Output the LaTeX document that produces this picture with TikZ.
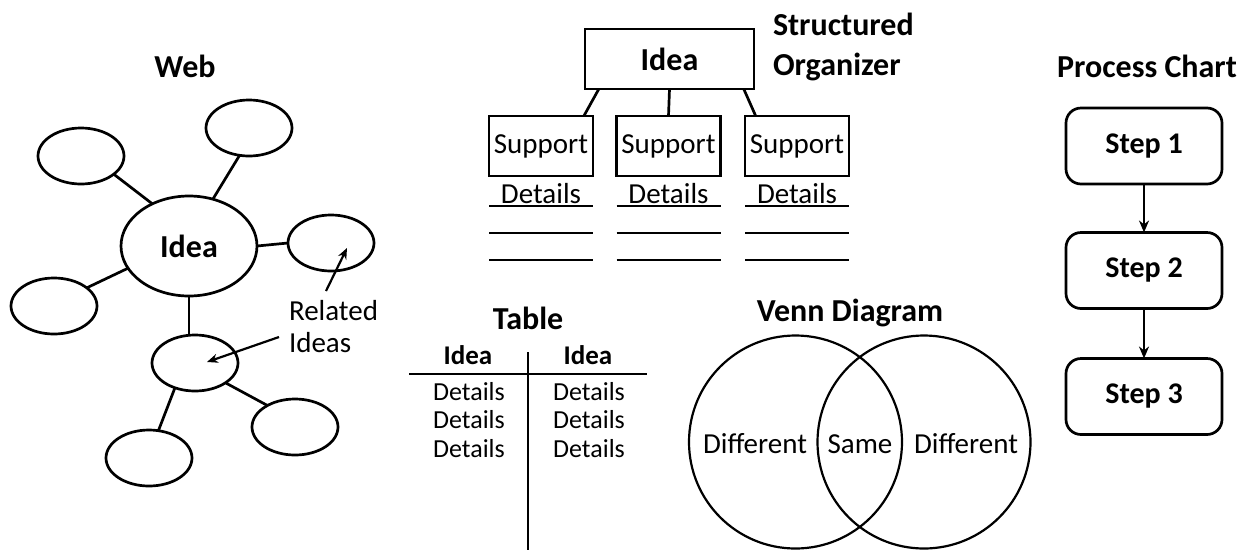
\documentclass[tikz,border=0pt]{standalone}
\usepackage{fontspec}
\setmainfont{Carlito}
\usetikzlibrary{arrows.meta,shapes.geometric}
\newcommand\myN{\fontsize{29}{35}\selectfont}
\newcommand\myB{\fontsize{32}{38}\selectfont\bfseries}
\newcommand\myS{\fontsize{30}{36}\selectfont\bfseries}
\newcommand\myT{\fontsize{26}{31}\selectfont}
\newcommand\myH{\fontsize{27}{32}\selectfont\bfseries}
\begin{document}
\begin{tikzpicture}[x=1pt,y=-1pt, line width=2.7pt,
  every node/.style={inner sep=0pt, outer sep=0pt},
  bub/.style={ellipse, draw, minimum width=86pt, minimum height=56pt},
  sbox/.style={rectangle, draw, minimum width=104pt, minimum height=60pt, font=\myN},
  stepbox/.style={rectangle, draw, rounded corners=15pt, minimum width=156pt, minimum height=76pt, font=\myS},
  arr/.style={-{Stealth[length=12pt,width=10pt]}},
  sarr/.style={line width=2.2pt,-{Stealth[length=11pt,width=9pt]}},
  title/.style={anchor=base, font=\myB},
  venn/.style={circle, draw, line width=2.2pt, minimum size=213pt}]
\useasboundingbox (0,0) rectangle (1250,550);

% ---------- Web ----------
\node[title] (webt) at (185,77) {Web};
\node[bub, minimum width=136pt, minimum height=100pt, font=\myB] (idea) at (189,246) {Idea};
\node[bub] (tl) at (81,156) {};
\node[bub] (tr) at (249,128) {};
\node[bub] (r) at (331,243) {};
\node[bub] (l) at (54,306) {};
\node[bub] (m) at (195,363) {};
\node[bub] (bl) at (149,458) {};
\node[bub] (br) at (295,427) {};
\draw (tl.-29) -- (idea.131);
\draw (tr.-109) -- (idea.63);
\draw (idea.east) -- (r.west);
\draw (idea.-160) -- (l.29);
\draw (idea.south) -- (idea.south |- m.north);
\draw (m.-129) -- (bl.71);
\draw (m.-33) -- (br.142);
\node[anchor=base west, font=\myN] (rel1) at (289,320) {Related};
\node[anchor=base west, font=\myN] (rel2) at (289,352) {Ideas};
\coordinate (a1s) at (326,291);
\coordinate (a1e) at (347,248);
\coordinate (a2s) at (279,337);
\coordinate (a2e) at (207,362);
\draw[sarr] (a1s) -- (a1e);
\draw[sarr] (a2s) -- (a2e);

% ---------- Structured Organizer ----------
\node[anchor=base west, font=\myB] (so1) at (773,35) {Structured};
\node[anchor=base west, font=\myB] (so2) at (773,75) {Organizer};
\node[rectangle, draw, minimum width=169pt, minimum height=60pt, font=\myB] (sidea) at (669.5,59) {Idea};
\node[sbox] (s1) at (541,146) {Support};
\node[sbox] (s2) at (668.5,146) {Support};
\node[sbox] (s3) at (797,146) {Support};
\draw (sidea.-157.5) -- (s1.35.5);
\draw (sidea.south) -- (s2.north);
\draw (sidea.-22.8) -- (s3.144.5);
\foreach \n in {s1,s2,s3}{
  \node[anchor=base, font=\myN] at (\n.south |- 0,203) {Details};
  \foreach \yy in {206,233,260}{
    \draw (\n.south west |- 0,\yy) -- (\n.south east |- 0,\yy);
  }
}

% ---------- Table ----------
\node[title] (tabt) at (528,329) {Table};
\node[anchor=base, font=\myH] (th1) at (468,364) {Idea};
\node[anchor=base, font=\myH] (th2) at (588,364) {Idea};
\draw (409,374) -- (647,374);
\draw (528,352) -- (528,550);
\foreach \yy in {400,428.5,457}{
  \node[anchor=base, font=\myT] at (469,\yy) {Details};
  \node[anchor=base, font=\myT] at (589,\yy) {Details};
}

% ---------- Venn ----------
\node[title] (vt) at (850,321) {Venn Diagram};
\node[venn] (vl) at (795.5,442) {};
\node[venn] (vr) at (924,442) {};
\node[anchor=base, font=\myN] (d1) at (755,453) {Different};
\node[anchor=base, font=\myN] (same) at (860,453) {Same};
\node[anchor=base, font=\myN] (d2) at (966,453) {Different};

% ---------- Process Chart ----------
\node[title] (pt) at (1147,77) {Process Chart};
\node[stepbox] (st1) at (1144,146) {Step 1};
\node[stepbox] (st2) at (1144,270.5) {Step 2};
\node[stepbox] (st3) at (1144,396.5) {Step 3};
\draw[arr] (st1) -- (st2);
\draw[arr] (st2) -- (st3);
\end{tikzpicture}
\end{document}
